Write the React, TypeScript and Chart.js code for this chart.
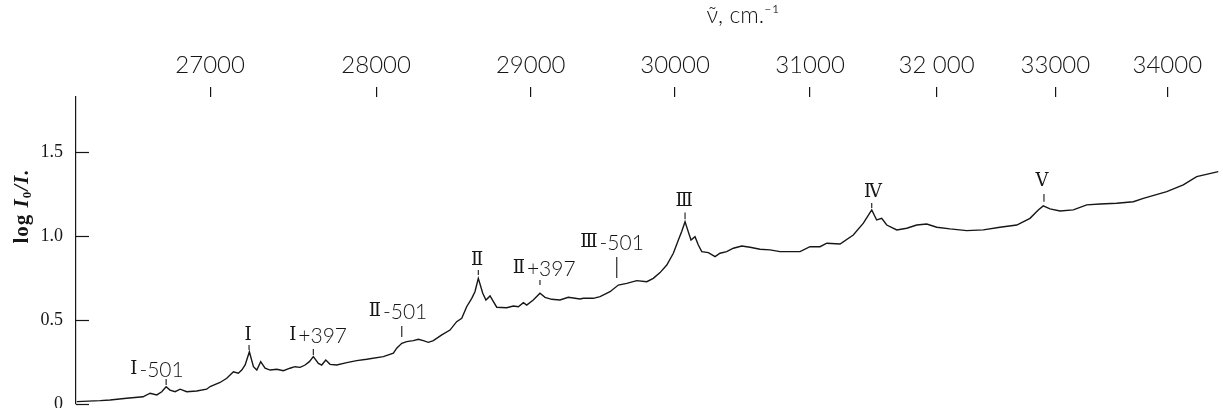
import { useEffect, useRef } from "react";
import { Chart, registerables } from "chart.js";

Chart.register(...registerables);

// Wavenumber (cm^-1) of each traced point of the absorption curve
const WAVENUMBER = [
  26247, 26376, 26431, 26524, 26616, 26656, 26694, 26722, 26747, 26769,
  26798, 26827, 26865, 26922, 26980, 27000, 27058, 27097, 27136, 27165,
  27185, 27205, 27230, 27254, 27274, 27297, 27323, 27353, 27393, 27432,
  27472, 27502, 27533, 27563, 27589, 27613, 27644, 27664, 27689, 27715,
  27756, 27818, 27879, 27941, 28045, 28108, 28129, 28161, 28192, 28234,
  28266, 28298, 28330, 28362, 28416, 28469, 28512, 28545, 28577, 28610,
  28631, 28653, 28682, 28703, 28730, 28752, 28774, 28840, 28884, 28917,
  28951, 28973, 29017, 29062, 29096, 29141, 29197, 29254, 29334, 29357,
  29425, 29472, 29541, 29599, 29658, 29728, 29799, 29845, 29893, 29941,
  29988, 30024, 30048, 30072, 30095, 30115, 30144, 30168, 30193, 30241,
  30290, 30326, 30375, 30424, 30486, 30548, 30622, 30697, 30772, 30924,
  31000, 31077, 31129, 31232, 31335, 31414, 31480, 31519, 31559, 31599,
  31679, 31759, 31839, 31920, 32002, 32110, 32248, 32386, 32526, 32668,
  32781, 32852, 32895, 32953, 33040, 33156, 33274, 33392, 33540, 33690,
  33781, 33995, 34148, 34273, 34476,
];

// log I0/I at each point
const ABSORBANCE = [
  0.014, 0.020, 0.024, 0.034, 0.043, 0.064, 0.054, 0.073, 0.103, 0.083,
  0.073, 0.088, 0.073, 0.077, 0.088, 0.104, 0.128, 0.153, 0.192, 0.183,
  0.202, 0.232, 0.311, 0.222, 0.202, 0.252, 0.213, 0.202, 0.207, 0.198,
  0.213, 0.222, 0.218, 0.232, 0.252, 0.282, 0.242, 0.232, 0.262, 0.236,
  0.232, 0.246, 0.258, 0.266, 0.282, 0.302, 0.332, 0.361, 0.371, 0.377,
  0.385, 0.377, 0.367, 0.377, 0.411, 0.440, 0.490, 0.510, 0.579, 0.629,
  0.668, 0.748, 0.659, 0.619, 0.643, 0.609, 0.576, 0.573, 0.583, 0.579,
  0.603, 0.589, 0.619, 0.659, 0.635, 0.623, 0.619, 0.635, 0.625, 0.629,
  0.629, 0.639, 0.668, 0.708, 0.718, 0.734, 0.728, 0.748, 0.782, 0.827,
  0.897, 0.976, 1.026, 1.085, 1.026, 0.976, 0.996, 0.946, 0.907, 0.901,
  0.877, 0.897, 0.907, 0.927, 0.940, 0.933, 0.921, 0.917, 0.907, 0.907,
  0.936, 0.936, 0.957, 0.952, 1.006, 1.076, 1.155, 1.095, 1.105, 1.065,
  1.036, 1.046, 1.065, 1.071, 1.052, 1.042, 1.032, 1.036, 1.052, 1.065,
  1.105, 1.155, 1.179, 1.161, 1.149, 1.155, 1.185, 1.190, 1.195, 1.204,
  1.224, 1.264, 1.304, 1.353, 1.383,
];

// Axis ticks
const X_TICKS = [27000, 28000, 29000, 30000, 31000, 32000, 33000, 34000];
const X_TICK_LABELS = ["27000", "28000", "29000", "30000", "31000", "32 000", "33000", "34000"];
const Y_TICKS = [0, 0.5, 1.0, 1.5];
const Y_TICK_LABELS = ["0", "0.5", "1.0", "1.5"];

// Axis range (wavenumber at left / right edge, absorbance range)
const X_LEFT_WN = 26243;
const X_RIGHT_WN = 34502;
const Y_MIN = 0;
const Y_MAX = 1.827;

// Band assignments
const ANN_NUMERAL = ["Ⅰ", "Ⅰ", "Ⅰ", "Ⅱ", "Ⅱ", "Ⅱ", "Ⅲ", "Ⅲ", "Ⅳ", "Ⅴ"];
const ANN_SUFFIX = ["-501", "", "+397", "-501", "", "+397", "-501", "", "", ""];
const ANN_TICK_WN = [26747, 27228, 27613, 28161, 28653, 29062, 29588, 30072, 31480, 32901];
const ANN_LABEL_WN = [26695, 27222, 27642, 28137, 28645, 29090, 29555, 30065, 31490, 32884];
const ANN_LABEL_Y = [0.208, 0.411, 0.411, 0.551, 0.857, 0.810, 0.961, 1.204, 1.262, 1.323];
const ANN_TICK_TOP = [0.149, 0.351, 0.327, 0.464, 0.798, 0.738, 0.875, 1.139, 1.196, 1.25];
const ANN_TICK_BOTTOM = [0.113, 0.321, 0.292, 0.399, 0.768, 0.708, 0.75, 1.099, 1.167, 1.204];

const X_TITLE = "ν̃, cm.⁻¹";

const toLambda = (wn: number) => 1e7 / wn;

const INK = "#161616";
const SANS = 'Lato, "DejaVu Sans", sans-serif';
const SERIF = '"Liberation Serif", "DejaVu Serif", serif';

const decorPlugin = {
  id: "decor",
  afterDraw(chart: any) {
    const { ctx, scales, chartArea } = chart;
    const x = scales.x;
    const y = scales.y;
    ctx.save();
    ctx.fillStyle = INK;
    ctx.strokeStyle = INK;
    ctx.lineWidth = 1.2;

    // inward tick marks of the absorbance axis
    Y_TICKS.forEach((v) => {
      const py = Math.round(y.getPixelForValue(v)) + 0.5;
      ctx.beginPath();
      ctx.moveTo(chartArea.left, py);
      ctx.lineTo(chartArea.left + 13, py);
      ctx.stroke();
    });

    ctx.lineWidth = 1.1;
    ctx.textBaseline = "middle";
    ctx.textAlign = "left";
    const numeralFont = '18px "DejaVu Serif", serif';
    const suffixFont = `300 21px ${SANS}`;
    for (let i = 0; i < ANN_TICK_WN.length; i++) {
      const tx = x.getPixelForValue(toLambda(ANN_TICK_WN[i]));
      ctx.beginPath();
      ctx.moveTo(tx, y.getPixelForValue(ANN_TICK_TOP[i]));
      ctx.lineTo(tx, y.getPixelForValue(ANN_TICK_BOTTOM[i]));
      ctx.stroke();

      const cx = x.getPixelForValue(toLambda(ANN_LABEL_WN[i]));
      const cy = y.getPixelForValue(ANN_LABEL_Y[i]);
      ctx.font = numeralFont;
      const w1 = ctx.measureText(ANN_NUMERAL[i]).width;
      const suffix = ANN_SUFFIX[i];
      ctx.font = suffixFont;
      const gap = suffix ? 2 : 0;
      const w2 = suffix ? ctx.measureText(suffix).width : 0;
      const sx = cx - (w1 + gap + w2) / 2;
      ctx.font = numeralFont;
      ctx.fillText(ANN_NUMERAL[i], sx, cy);
      if (suffix) {
        ctx.font = suffixFont;
        ctx.fillText(suffix, sx + w1 + gap, cy + 1);
      }
    }

    // top axis title
    ctx.font = `300 23px ${SANS}`;
    ctx.textAlign = "center";
    ctx.fillText(X_TITLE, 743, 16);

    // left axis title, rotated
    ctx.translate(23, 206);
    ctx.rotate(-Math.PI / 2);
    ctx.textAlign = "left";
    try {
      (ctx as any).letterSpacing = "1px";
    } catch (e) {
      /* ignore */
    }
    const segs = [
      { t: "log ", f: `bold 21px ${SERIF}`, dy: 0 },
      { t: "I", f: `italic bold 21px ${SERIF}`, dy: 0 },
      { t: "0", f: `bold 13px ${SERIF}`, dy: 5 },
      { t: "/I.", f: `italic bold 21px ${SERIF}`, dy: 0 },
    ];
    let total = 0;
    const widths = segs.map((s) => {
      ctx.font = s.f;
      const w = ctx.measureText(s.t).width;
      total += w;
      return w;
    });
    let px = -total / 2;
    segs.forEach((s, i) => {
      ctx.font = s.f;
      ctx.fillText(s.t, px, s.dy);
      px += widths[i];
    });
    ctx.restore();
  },
};

export default function App() {
  const ref = useRef<HTMLCanvasElement | null>(null);

  useEffect(() => {
    if (!ref.current) return;
    const points = WAVENUMBER.map((wn, i) => ({ x: toLambda(wn), y: ABSORBANCE[i] }));
    const chart = new Chart(ref.current, {
      type: "line",
      data: {
        datasets: [
          {
            data: points,
            borderColor: INK,
            borderWidth: 1.4,
            pointRadius: 0,
            tension: 0,
            fill: false,
          },
        ],
      },
      options: {
        animation: false,
        responsive: false,
        layout: { padding: { top: 51, left: 36, right: 2, bottom: 4 } },
        plugins: { legend: { display: false }, tooltip: { enabled: false } },
        scales: {
          x: {
            type: "linear",
            position: "top",
            reverse: true,
            min: toLambda(X_RIGHT_WN),
            max: toLambda(X_LEFT_WN),
            afterBuildTicks: (s: any) => {
              s.ticks = X_TICKS.map((w) => ({ value: toLambda(w) }));
            },
            afterFit: (s: any) => {
              s.height = 46;
              s.paddingTop = 0;
              s.paddingBottom = 0;
            },
            ticks: {
              callback: (_v: any, i: number) => X_TICK_LABELS[i],
              font: { family: SANS, size: 24, weight: 300 as any },
              color: INK,
              padding: 7,
              maxRotation: 0,
              minRotation: 0,
              autoSkip: false,
            },
            grid: { drawOnChartArea: false, drawTicks: true, tickLength: 10, color: INK, lineWidth: 1.2 },
            border: { display: false },
          },
          y: {
            type: "linear",
            position: "left",
            min: Y_MIN,
            max: Y_MAX,
            afterBuildTicks: (s: any) => {
              s.ticks = Y_TICKS.map((v) => ({ value: v }));
            },
            afterFit: (s: any) => {
              s.width = 40;
              s.paddingTop = 0;
              s.paddingBottom = 0;
            },
            ticks: {
              callback: (_v: any, i: number) => Y_TICK_LABELS[i],
              font: { family: SERIF, size: 18 },
              color: INK,
              padding: 13,
            },
            grid: { drawOnChartArea: false, drawTicks: false, color: INK, lineWidth: 1.2 },
            border: { display: true, color: INK, width: 1.2 },
          },
        },
      },
      plugins: [decorPlugin],
    });
    return () => chart.destroy();
  }, []);

  return (
    <div style={{ position: "fixed", left: 0, top: 0, width: "1223px", height: "408px", background: "#fff" }}>
      <canvas ref={ref} width={1223} height={408} style={{ display: "block" }} />
    </div>
  );
}
